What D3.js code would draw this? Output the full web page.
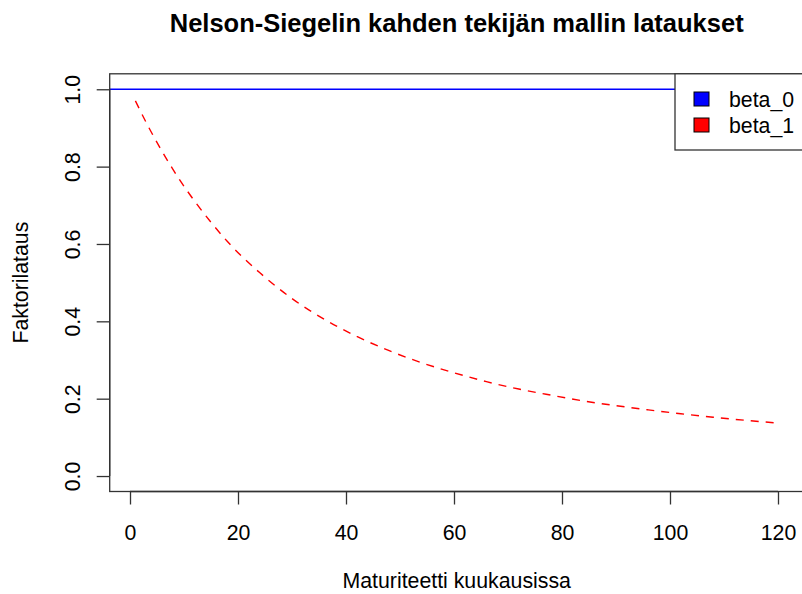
<!DOCTYPE html>
<html>
<head>
<meta charset="utf-8">
<script src="https://cdn.jsdelivr.net/npm/d3@7"></script>
<style>
  body { margin: 0; background: #fff; }
  text { font-family: "Liberation Sans", Arial, Helvetica, sans-serif; fill: #000; }
</style>
</head>
<body>
<div id="chart"></div>
<script>
// maturities (months) and the beta_1 loading
const maturities = [1, 3, 6, 9, 12, 15, 18, 21, 24, 30, 36, 42, 48, 54, 60, 66, 72, 78, 84, 90, 96, 102, 108, 114, 120];
const beta1 = [0.970, 0.914, 0.838, 0.770, 0.710, 0.656, 0.607, 0.564, 0.526, 0.459, 0.405, 0.361, 0.324, 0.293, 0.267, 0.244, 0.225, 0.209, 0.194, 0.182, 0.171, 0.161, 0.152, 0.144, 0.137];
// beta_0 loading is flat
const beta0Level = 1;

const xTicks = [0, 20, 40, 60, 80, 100, 120];
const yTicks = [0, 0.2, 0.4, 0.6, 0.8, 1.0];

const seriesNames = ["beta_0", "beta_1"];
const seriesColors = ["#0000ff", "#ff0000"];

function main() {
    const width = 802;
    const height = 594;
    const fs = 21.3;

    const svg = d3.select("#chart").append("svg")
        .attr("width", width)
        .attr("height", height);

    // R style 4% extension of the data range
    const x = d3.scaleLinear().domain([-3.76, 124.76]).range([109.7, 803.7]);
    const y = d3.scaleLinear().domain([-0.04, 1.04]).range([491.5, 73.8]);

    const [x0, x1] = x.range();
    const [y0, y1] = y.range();

    svg.append("clipPath").attr("id", "plotArea")
        .append("rect")
        .attr("x", x0).attr("y", y1)
        .attr("width", x1 - x0).attr("height", y0 - y1);

    const plot = svg.append("g").attr("clip-path", "url(#plotArea)");

    // beta_0: horizontal line
    plot.append("line")
        .attr("x1", x0).attr("x2", x1)
        .attr("y1", y(beta0Level)).attr("y2", y(beta0Level))
        .attr("stroke", seriesColors[0])
        .attr("stroke-width", 1.3);

    // beta_1: dashed curve
    const line = d3.line()
        .x((d, i) => x(maturities[i]))
        .y(d => y(d))
        .curve(d3.curveMonotoneX);

    plot.append("path")
        .datum(beta1)
        .attr("fill", "none")
        .attr("stroke", seriesColors[1])
        .attr("stroke-width", 1.4)
        .attr("stroke-dasharray", "8,7")
        .attr("d", line);

    // box
    svg.append("rect")
        .attr("x", x0).attr("y", y1)
        .attr("width", x1 - x0).attr("height", y0 - y1)
        .attr("fill", "none")
        .attr("stroke", "#333")
        .attr("stroke-width", 1.3);

    // x axis
    const xAxis = svg.append("g")
        .attr("transform", `translate(0,${y0})`)
        .call(d3.axisBottom(x).tickValues(xTicks).tickSize(13).tickFormat(d3.format("d")));
    xAxis.select(".domain")
        .attr("d", `M${x(xTicks[0])},0H${x(xTicks[xTicks.length - 1])}`);
    xAxis.selectAll(".tick text")
        .attr("dy", null)
        .attr("y", 48);

    // y axis
    const yAxis = svg.append("g")
        .attr("transform", `translate(${x0},0)`)
        .call(d3.axisLeft(y).tickValues(yTicks).tickSize(13).tickFormat(d3.format(".1f")));
    yAxis.select(".domain")
        .attr("d", `M0,${y(yTicks[0])}V${y(yTicks[yTicks.length - 1])}`);
    yAxis.selectAll(".tick text")
        .attr("x", null).attr("dy", null)
        .attr("text-anchor", "middle")
        .attr("transform", "translate(-30,0) rotate(-90)");

    svg.selectAll(".domain, .tick line")
        .attr("stroke", "#333")
        .attr("stroke-width", 1.3);
    svg.selectAll(".tick text")
        .attr("font-size", fs)
        .attr("fill", "#222")
        .attr("font-family", "Liberation Sans, Arial, sans-serif");

    // title & axis labels
    svg.append("text")
        .attr("x", (x0 + x1) / 2)
        .attr("y", 32)
        .attr("text-anchor", "middle")
        .attr("font-size", 25.5)
        .attr("font-weight", "bold")
        .text("Nelson-Siegelin kahden tekijän mallin lataukset");

    svg.append("text")
        .attr("x", (x0 + x1) / 2)
        .attr("y", 588)
        .attr("text-anchor", "middle")
        .attr("font-size", fs)
        .attr("fill", "#222")
        .text("Maturiteetti kuukausissa");

    svg.append("text")
        .attr("transform", `translate(28,${(y0 + y1) / 2}) rotate(-90)`)
        .attr("text-anchor", "middle")
        .attr("font-size", fs)
        .attr("fill", "#222")
        .text("Faktorilataus");

    // legend
    const legend = svg.append("g");
    legend.append("rect")
        .attr("x", 675).attr("y", y1)
        .attr("width", x1 - 675).attr("height", 150 - y1)
        .attr("fill", "#fff")
        .attr("stroke", "#333")
        .attr("stroke-width", 1.3);

    seriesNames.forEach((name, i) => {
        legend.append("rect")
            .attr("x", 694).attr("y", 92 + i * 26)
            .attr("width", 15).attr("height", 14)
            .attr("fill", seriesColors[i])
            .attr("stroke", "#000")
            .attr("stroke-width", 1);
        legend.append("text")
            .attr("x", 729).attr("y", 107 + i * 25.5)
            .attr("font-size", fs)
            .attr("fill", "#222")
            .text(name);
    });
}
main();
</script>
</body>
</html>
